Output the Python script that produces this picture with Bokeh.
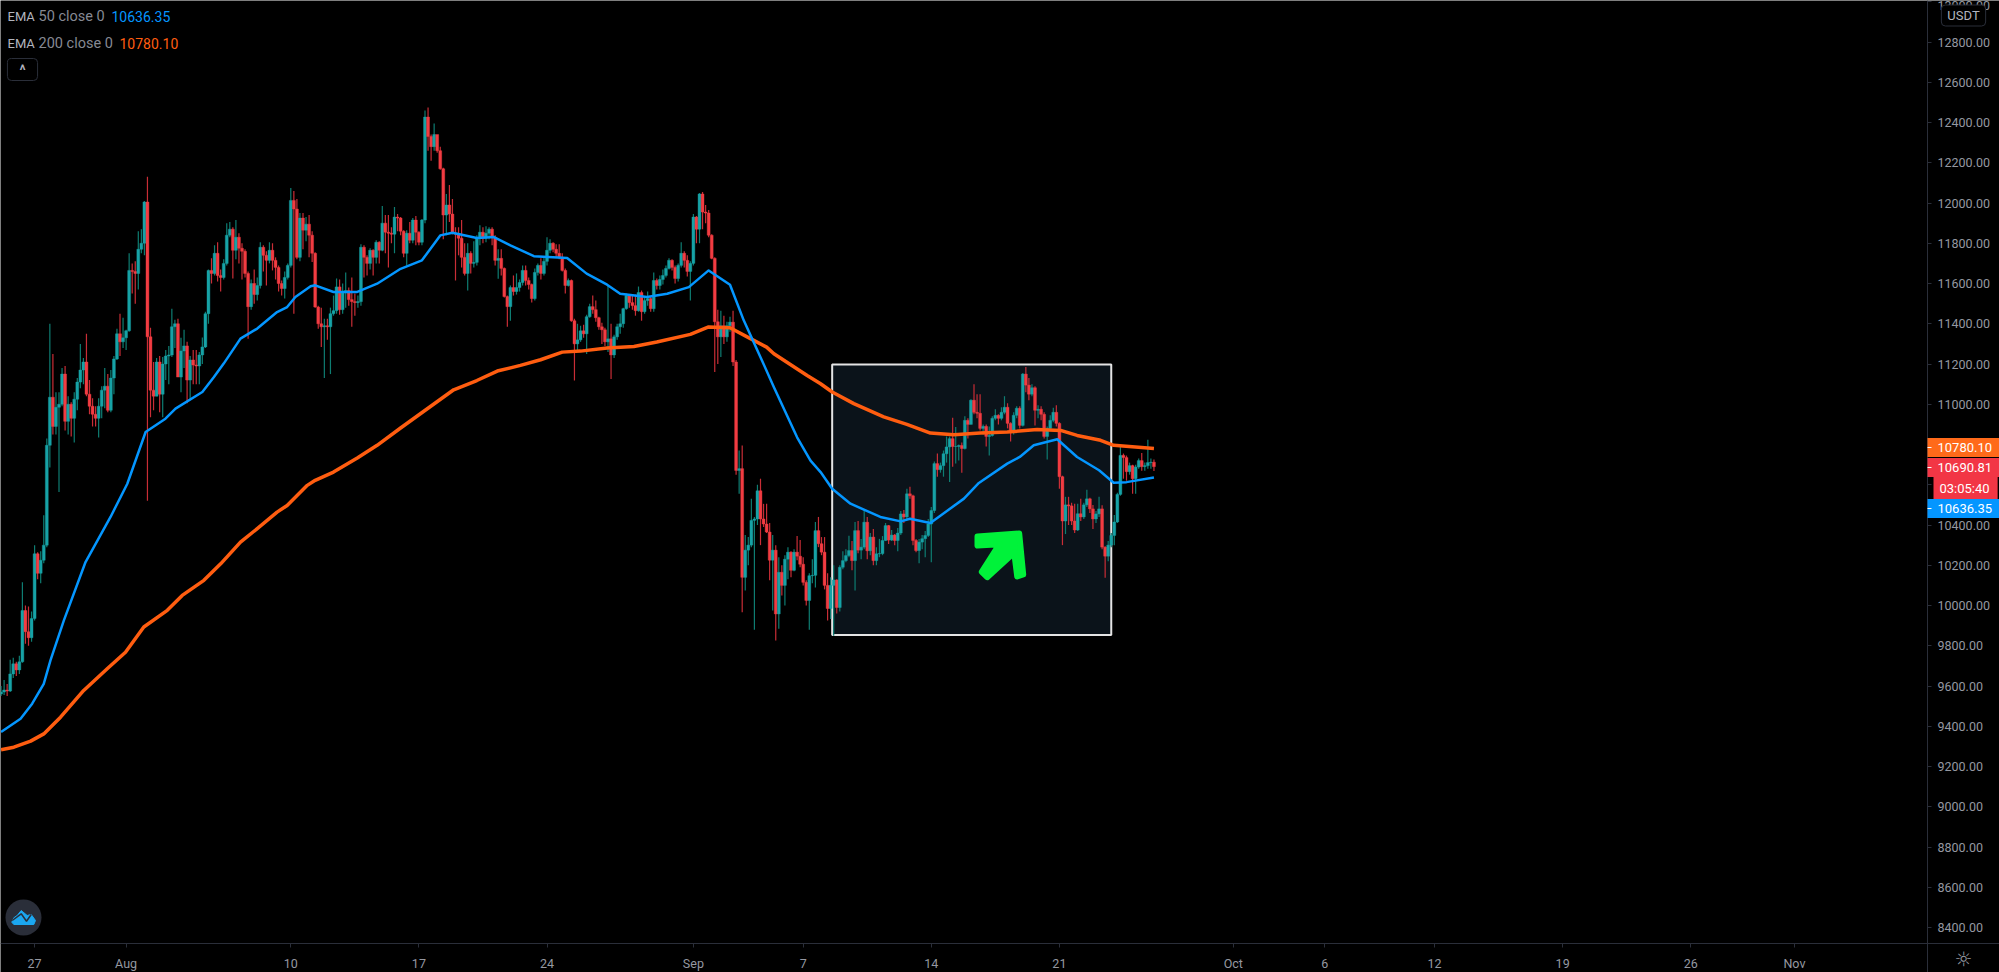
from bokeh.embed import file_html
from bokeh.models import BoxAnnotation, FixedTicker, Label, LinearAxis, PrintfTickFormatter, Range1d
from bokeh.plotting import figure
from bokeh.resources import INLINE

# BTC/USDT 4h candles. index 0 is the 1 Aug candle
first_bar = -41
first_open = 9560
closes = [
    9570, 9580, 9575, 9660, 9710, 9680, 9720, 9975, 9870, 9840, 9935, 10257, 10160, 10225, 10300, 10796, 11035, 10890, 10985, 11000,
    11150, 10915, 11000, 10930, 11025, 11110, 11170, 11210, 11050, 10990, 10950, 10930, 10990, 11070, 11090, 10970, 11130, 11225, 11350, 11310,
    11330, 11365, 11665, 11660, 11650, 11770, 11800, 12005, 11335, 11070, 11040, 11210, 11050, 11200, 11240, 11245, 11385, 11400, 11135, 11265,
    11290, 11120, 11220, 11195, 11190, 11245, 11285, 11450, 11665, 11650, 11750, 11640, 11630, 11700, 11840, 11870, 11765, 11830, 11775, 11760,
    11650, 11485, 11600, 11545, 11590, 11780, 11740, 11715, 11765, 11715, 11680, 11600, 11575, 11630, 11690, 12013, 11970, 11730, 11925, 11865,
    11895, 11840, 11750, 11483, 11400, 11385, 11390, 11385, 11450, 11465, 11583, 11470, 11560, 11565, 11520, 11510, 11505, 11510, 11780, 11730,
    11700, 11765, 11730, 11805, 11765, 11900, 11855, 11850, 11845, 11930, 11925, 11860, 11750, 11850, 11815, 11915, 11855, 11805, 11915, 12427,
    12330, 12280, 12340, 12260, 12170, 11940, 11990, 11945, 11850, 11845, 11825, 11730, 11650, 11750, 11700, 11705, 11825, 11855, 11825, 11850,
    11870, 11830, 11715, 11725, 11675, 11535, 11485, 11580, 11560, 11580, 11605, 11665, 11615, 11595, 11525, 11655, 11690, 11650, 11710, 11765,
    11800, 11770, 11750, 11730, 11665, 11590, 11615, 11415, 11300, 11320, 11365, 11350, 11435, 11485, 11470, 11430, 11385, 11370, 11310, 11325,
    11245, 11335, 11385, 11400, 11475, 11540, 11505, 11490, 11465, 11555, 11460, 11515, 11525, 11475, 11615, 11590, 11620, 11640, 11675, 11715,
    11680, 11625, 11690, 11750, 11715, 11660, 11700, 11930, 11870, 12045, 11955, 11950, 11840, 11725, 11410, 11335, 11390, 11335, 11390, 11408,
    11210, 10671, 10680, 10140, 10275, 10300, 10423, 10430, 10570, 10430, 10405, 10365, 10225, 10275, 9958, 10165, 10100, 10230, 10265, 10175,
    10265, 10245, 10205, 10115, 10025, 10148, 10150, 10372, 10307, 10265, 10100, 9985, 10100, 10127, 9990, 10190, 10223, 10248, 10273, 10223,
    10372, 10275, 10290, 10414, 10272, 10340, 10223, 10257, 10258, 10323, 10397, 10325, 10350, 10323, 10360, 10455, 10440, 10555, 10545, 10323,
    10273, 10315, 10332, 10348, 10405, 10472, 10705, 10675, 10695, 10754, 10788, 10829, 10790, 10790, 10795, 10780, 10920, 10900, 11020, 10960,
    10955, 10880, 10890, 10840, 10845, 10930, 10945, 10930, 10960, 10985, 10905, 10860, 10945, 10980, 10895, 11150, 11095, 11050, 11082, 10970,
    10975, 10950, 10840, 10880, 10920, 10960, 10905, 10640, 10420, 10500, 10495, 10420, 10375, 10456, 10440, 10500, 10530, 10480, 10430, 10455,
    10480, 10290, 10245, 10300, 10348, 10415, 10552, 10746, 10735, 10665, 10695, 10630, 10688, 10720, 10690, 10695, 10710, 10712, 10690,
]
highs = [
    9600, 9630, 9610, 9730, 9740, 9720, 9750, 10116, 10000, 9995, 9970, 10300, 10265, 10270, 10448, 10830, 11400, 11250, 11060, 11060,
    11180, 11190, 11040, 11010, 11060, 11130, 11300, 11230, 11350, 11120, 11030, 10990, 11030, 11090, 11180, 11150, 11170, 11240, 11375, 11450,
    11430, 11370, 11750, 11700, 11710, 11860, 11870, 12010, 12130, 11380, 11210, 11230, 11240, 11235, 11270, 11290, 11475, 11420, 11425, 11330,
    11370, 11310, 11240, 11270, 11270, 11260, 11332, 11460, 11670, 11725, 11790, 11805, 11670, 11720, 11900, 11905, 11880, 11915, 11850, 11800,
    11770, 11660, 11620, 11670, 11630, 11805, 11790, 11760, 11805, 11800, 11730, 11690, 11615, 11660, 11700, 12075, 12060, 12020, 11950, 11950,
    11930, 11940, 11860, 11755, 11490, 11480, 11425, 11425, 11480, 11540, 11625, 11620, 11600, 11655, 11580, 11630, 11550, 11540, 11795, 11790,
    11740, 11775, 11770, 11815, 11810, 11985, 11940, 11940, 11880, 11980, 11945, 11930, 11865, 11865, 11905, 11925, 11935, 11860, 11920, 12460,
    12475, 12340, 12395, 12330, 12280, 12175, 12045, 12090, 12020, 11880, 11880, 11915, 11800, 11800, 11760, 11810, 11840, 11890, 11880, 11885,
    11880, 11880, 11840, 11770, 11770, 11680, 11540, 11590, 11640, 11650, 11620, 11690, 11690, 11630, 11600, 11675, 11700, 11725, 11730, 11830,
    11820, 11805, 11795, 11795, 11750, 11675, 11625, 11620, 11425, 11400, 11390, 11395, 11445, 11500, 11540, 11515, 11435, 11405, 11380, 11590,
    11400, 11345, 11400, 11450, 11480, 11550, 11545, 11540, 11545, 11585, 11565, 11530, 11560, 11535, 11655, 11625, 11640, 11670, 11690, 11725,
    11720, 11690, 11700, 11805, 11760, 11740, 11710, 11945, 11935, 12050, 12055, 11990, 11965, 11845, 11730, 11470, 11465, 11440, 11410, 11435,
    11465, 11220, 10770, 10795, 10350, 10340, 10530, 10440, 10600, 10630, 10505, 10505, 10410, 10350, 10300, 10240, 10200, 10250, 10290, 10270,
    10280, 10345, 10325, 10240, 10125, 10160, 10230, 10415, 10440, 10340, 10340, 10160, 10140, 10200, 10130, 10200, 10270, 10280, 10347, 10320,
    10415, 10420, 10330, 10480, 10440, 10360, 10380, 10290, 10331, 10345, 10410, 10400, 10375, 10355, 10385, 10470, 10475, 10580, 10590, 10550,
    10330, 10330, 10350, 10370, 10430, 10490, 10715, 10755, 10710, 10770, 10840, 10840, 10933, 10887, 10800, 10810, 10940, 10930, 11025, 11100,
    11050, 11050, 10900, 10900, 10890, 10940, 10975, 10950, 10985, 11040, 11005, 10910, 10960, 10990, 10990, 11155, 11185, 11130, 11100, 11090,
    10995, 10990, 10960, 10890, 10945, 10983, 10995, 10910, 10645, 10540, 10540, 10510, 10505, 10505, 10530, 10510, 10575, 10535, 10500, 10470,
    10540, 10498, 10295, 10320, 10360, 10450, 10560, 10796, 10755, 10745, 10710, 10700, 10700, 10730, 10758, 10710, 10824, 10730, 10725,
]
lows = [
    9550, 9555, 9550, 9570, 9640, 9650, 9660, 9715, 9810, 9800, 9820, 9925, 10130, 10110, 10210, 10290, 10686, 10850, 10850, 10564,
    10990, 10870, 10850, 10840, 10810, 10970, 11080, 11100, 11040, 10950, 10890, 10890, 10835, 10930, 10980, 10960, 10960, 11050, 11220, 11240,
    11280, 11270, 11360, 11550, 11500, 11570, 11750, 11740, 10520, 10935, 10970, 11040, 10960, 10935, 11120, 11100, 11235, 11280, 11135, 11060,
    11180, 11005, 11020, 11100, 11100, 11100, 11200, 11280, 11400, 11600, 11640, 11610, 11560, 11620, 11690, 11830, 11625, 11720, 11700, 11620,
    11630, 11326, 11470, 11500, 11515, 11575, 11660, 11590, 11700, 11665, 11620, 11560, 11540, 11525, 11620, 11680, 11450, 11720, 11710, 11770,
    11810, 11730, 11707, 11480, 11375, 11285, 11130, 11320, 11150, 11440, 11450, 11445, 11450, 11480, 11490, 11385, 11440, 11480, 11490, 11630,
    11640, 11670, 11640, 11700, 11700, 11760, 11750, 11680, 11800, 11750, 11860, 11840, 11730, 11690, 11800, 11800, 11790, 11790, 11790, 11900,
    12260, 12210, 12260, 12250, 12165, 11820, 11840, 11905, 11845, 11615, 11740, 11680, 11640, 11565, 11650, 11680, 11690, 11790, 11800, 11805,
    11820, 11790, 11690, 11624, 11640, 11530, 11385, 11415, 11540, 11545, 11560, 11590, 11590, 11570, 11505, 11515, 11640, 11620, 11640, 11690,
    11750, 11755, 11730, 11720, 11660, 11550, 11585, 11410, 11118, 11260, 11310, 11330, 11250, 11430, 11450, 11410, 11370, 11300, 11290, 11260,
    11125, 11230, 11320, 11350, 11380, 11470, 11480, 11470, 11440, 11460, 11415, 11450, 11490, 11460, 11460, 11570, 11570, 11595, 11630, 11670,
    11665, 11600, 11610, 11680, 11680, 11635, 11515, 11690, 11800, 11800, 11870, 11900, 11830, 11720, 11160, 11200, 11235, 11300, 11310, 11360,
    11190, 10650, 10555, 9967, 10075, 10200, 10290, 9880, 10400, 10300, 10390, 10360, 10125, 9975, 9826, 9884, 10050, 10000, 10130, 10140,
    10170, 10225, 10190, 10100, 10000, 9880, 10110, 10090, 10290, 10250, 10080, 9925, 9933, 9850, 9960, 9970, 10180, 10215, 10240, 10175,
    10075, 10260, 10230, 10280, 10230, 10250, 10200, 10200, 10240, 10250, 10320, 10305, 10320, 10300, 10270, 10350, 10410, 10430, 10530, 10300,
    10265, 10210, 10280, 10240, 10340, 10215, 10460, 10640, 10660, 10640, 10710, 10614, 10690, 10705, 10720, 10660, 10775, 10830, 10900, 10950,
    10930, 10870, 10850, 10790, 10745, 10840, 10920, 10900, 10920, 10950, 10880, 10815, 10850, 10930, 10880, 10890, 11060, 11020, 11040, 10895,
    10930, 10920, 10830, 10725, 10870, 10910, 10890, 10580, 10300, 10355, 10400, 10400, 10360, 10370, 10420, 10430, 10490, 10460, 10380, 10410,
    10440, 10280, 10138, 10220, 10290, 10300, 10410, 10545, 10630, 10620, 10650, 10555, 10555, 10680, 10670, 10670, 10680, 10680, 10668,
]

ema50_bar = [-41, -34.6, -30.8, -27, -24.8, -20.4, -13.3, -5.1, 0.4, 6.4, 12.9, 16.2, 25, 28.8, 32, 37.5, 43, 49.5, 52.8, 55.5, 60.5, 62, 68, 75.8, 82.3,
             90, 97, 103, 107, 115, 120.6, 126, 133.7, 144.6, 151, 157.7, 162, 170.8, 177.4, 184.5, 191, 198, 202.5, 208, 212.4, 220, 224.4, 227.7, 231.5,
             237.5, 247.3, 254, 257, 263.7, 274.7, 279.6, 288.9, 293, 297.6, 305.3, 311.8, 319, 323.8, 328, 337]
ema50 = [9371, 9437, 9512, 9611, 9727, 9926, 10216, 10440, 10605, 10862, 10928, 10978, 11061, 11135, 11202, 11326, 11376, 11458, 11483, 11533, 11586, 11591, 11558, 11558, 11599,
         11673, 11715, 11839, 11852, 11826, 11831, 11790, 11736, 11727, 11649, 11594, 11549, 11533, 11549, 11582, 11665, 11594, 11417, 11234, 11085, 10836, 10720, 10663, 10580,
         10506, 10440, 10418, 10431, 10410, 10531, 10609, 10705, 10738, 10796, 10826, 10738, 10672, 10610, 10613, 10636]

ema200_bar = [-41, -36.8, -31.3, -27, -21.5, -13.9, -6.2, -0.2, 5.8, 13.5, 18.4, 25.5, 31, 37.5, 43, 49.5, 52.8, 59.4, 62, 68, 75.8, 82.3, 90,
              107.4, 115, 121.7, 129.3, 135.9, 143, 149, 157.7, 166.5, 174, 185, 191, 198, 204.7, 210, 212.4, 223.3, 227.7, 231.5,
              238.6, 248.4, 256, 263.7, 271.4, 280, 288.9, 298.7, 306.4, 311.8, 319.5, 323.8, 337]
ema200 = [9283, 9296, 9326, 9362, 9445, 9578, 9686, 9768, 9893, 9976, 10050, 10125, 10207, 10315, 10382, 10464, 10497, 10597, 10622, 10663, 10733, 10796, 10882,
          11072, 11118, 11165, 11193, 11221, 11259, 11264, 11279, 11287, 11309, 11347, 11384, 11380, 11326, 11284, 11251, 11143, 11102, 11061,
          11003, 10937, 10900, 10857, 10849, 10857, 10862, 10874, 10870, 10845, 10821, 10796, 10780]

price_ticks = list(range(8400, 13200, 200))
date_ticks = [-30, 0, 54, 96, 138, 186, 222, 264, 306, 363, 393, 429, 471, 513, 547]
date_labels = ["27", "Aug", "10", "17", "24", "Sep", "7", "14", "21", "Oct", "6", "12", "19", "26", "Nov"]

box_bars = [231.5, 323]
box_prices = [9853, 11198]

BAR_PX = 3.05
BAR0_PX = 125.6

# drawn things (arrow, logo, axes) were placed by pixel, these turn pixels into data
def fx(px):
    return (px - BAR0_PX) / BAR_PX

def fy(py):
    return 8400 + (927 - py) * 200 / 40.25

GREY = "#868993"
LIGHT = "#b2b5be"
RULE = "#2a2e39"

opens = [first_open] + closes[:-1]
bars = list(range(first_bar, first_bar + len(closes)))
up = [c >= o for o, c in zip(opens, closes)]

# frame fills the whole canvas, the axes sit inside it at fixed places
p = figure(width=1999, height=972, output_backend="svg", toolbar_location=None,
           x_range=Range1d(fx(0), fx(1999)), y_range=Range1d(fy(972), fy(0)),
           x_axis_location=None, y_axis_location=None, min_border=0)
p.background_fill_color = "#000000"
p.border_fill_color = "#000000"
p.outline_line_color = None
p.grid.visible = False

price_axis = LinearAxis(fixed_location=fx(1927), ticker=FixedTicker(ticks=price_ticks),
                        formatter=PrintfTickFormatter(format="%.2f"), major_label_standoff=6)
date_axis = LinearAxis(fixed_location=fy(943), ticker=FixedTicker(ticks=date_ticks),
                       major_label_overrides=dict(zip(date_ticks, date_labels)), major_label_standoff=8)
for ax in [price_axis, date_axis]:
    ax.axis_line_color = RULE
    ax.major_tick_line_color = RULE
    ax.minor_tick_line_color = None
    ax.major_tick_in = 0
    ax.major_tick_out = 4
    ax.major_label_text_color = "#9598a1"
    ax.major_label_text_font = "Roboto"
    ax.major_label_text_font_size = "12.5px"
p.add_layout(price_axis, "right")
p.add_layout(date_axis, "below")

p.quad(left=[box_bars[0]], right=[box_bars[1]], bottom=[box_prices[0]], top=[box_prices[1]],
       fill_color="#0b131a", line_color="#e4e4e4", line_width=2)

wick_colors = ["#0e7d72" if u else "#c92d36" for u in up]
body_colors = ["#17a2a6" if u else "#f23c42" for u in up]
body_top = [max(o, c) for o, c in zip(opens, closes)]
body_bottom = [min(o, c) for o, c in zip(opens, closes)]
p.segment(bars, lows, bars, highs, line_color=wick_colors, line_width=1.2)
p.vbar(x=bars, width=0.95, top=body_top, bottom=body_bottom, fill_color=body_colors, line_color=body_colors, line_width=0.4)

p.line(ema200_bar, ema200, line_color="#ff5d10", line_width=3.5, line_join="round")
p.line(ema50_bar, ema50, line_color="#0496ff", line_width=2.5, line_join="round")

# green arrow inside the box
arrow_x = [977, 1018.7, 1022.7, 1016.7, 1013.7, 986.7, 981.3, 999, 977]
arrow_y = [536, 533, 574, 576, 552, 576.7, 571.3, 543.7, 545]
p.patch([fx(v) for v in arrow_x], [fy(v) for v in arrow_y], fill_color="#00f23a", line_color="#00f23a", line_width=6, line_join="round")

# logo bottom left
p.scatter([fx(23)], [fy(917)], size=36, marker="circle", fill_color="#2a2e39", line_color=None)
cloud_x = [11.3, 13.3, 16.7, 20.7, 26.7, 30.7, 35, 33.3, 13.3]
cloud_y = [921.7, 917.3, 915, 910, 915, 914, 920, 924, 924]
p.patch([fx(v) for v in cloud_x], [fy(v) for v in cloud_y], fill_color="#1ba7f0", line_color="#1ba7f0", line_width=1)
zig_x = [11.7, 20.7, 26, 30.7]
zig_y = [920, 913.3, 920.7, 914]
p.line([fx(v) for v in zig_x], [fy(v) for v in zig_y], line_color="#2a2e39", line_width=1.5)

def note(text, px, py, color, size="13px", align="left", font="Roboto", style="normal", **kw):
    p.add_layout(Label(x=px, y=py, x_units="canvas", y_units="canvas", text=text, text_color=color,
                       text_font=font, text_font_size=size, text_font_style=style, text_align=align,
                       text_baseline="middle", level="overlay", **kw))

# legend
note("EMA", 7, 16, LIGHT, "13px")
note("50 close 0", 38, 16, GREY, "14.5px")
note("10636.35", 111, 16, "#0496ff", "14px")
note("EMA", 7, 43, LIGHT, "13px")
note("200 close 0", 38, 43, GREY, "14.5px")
note("10780.10", 119, 43, "#ff5d10", "14px")
# padding here goes left, right, top, bottom. x is the left edge of the padded box
note("^", 22, 69, LIGHT, "14px", align="center", style="bold", padding=(12, 12, 3, 3),
     border_line_color=RULE, border_radius=4)

# price tags on the axis
note("USDT", 1963, 15, LIGHT, align="center", padding=(6, 6, 3, 3), border_line_color=RULE, border_radius=4,
     background_fill_color="#000000")
note("10780.10", 1927, 447, "#ffffff", padding=(10, 12, 5, 5), background_fill_color="#ff6a1a")
note("10690.81", 1927, 467, "#ffffff", padding=(10, 12, 5, 5), background_fill_color="#f23645")
note("03:05:40", 1933, 488, "#ffffff", padding=(6, 8, 5, 5), background_fill_color="#f23645")
note("10636.35", 1927, 508, "#ffffff", padding=(10, 12, 5, 5), background_fill_color="#0496ff")
note("\u263c", 1963, 958, "#9598a1", "20px", align="center", font="DejaVu Sans")

# little white ticks at the left of the tags
for tag_y in [447, 467, 508]:
    p.add_layout(BoxAnnotation(left=1927, right=1931, top=tag_y - 0.5, bottom=tag_y + 0.5, left_units="canvas",
                               right_units="canvas", top_units="canvas", bottom_units="canvas", fill_color="#ffffff",
                               fill_alpha=1, line_alpha=0, level="overlay"))

open("out.html", "w").write(file_html(p, INLINE))
